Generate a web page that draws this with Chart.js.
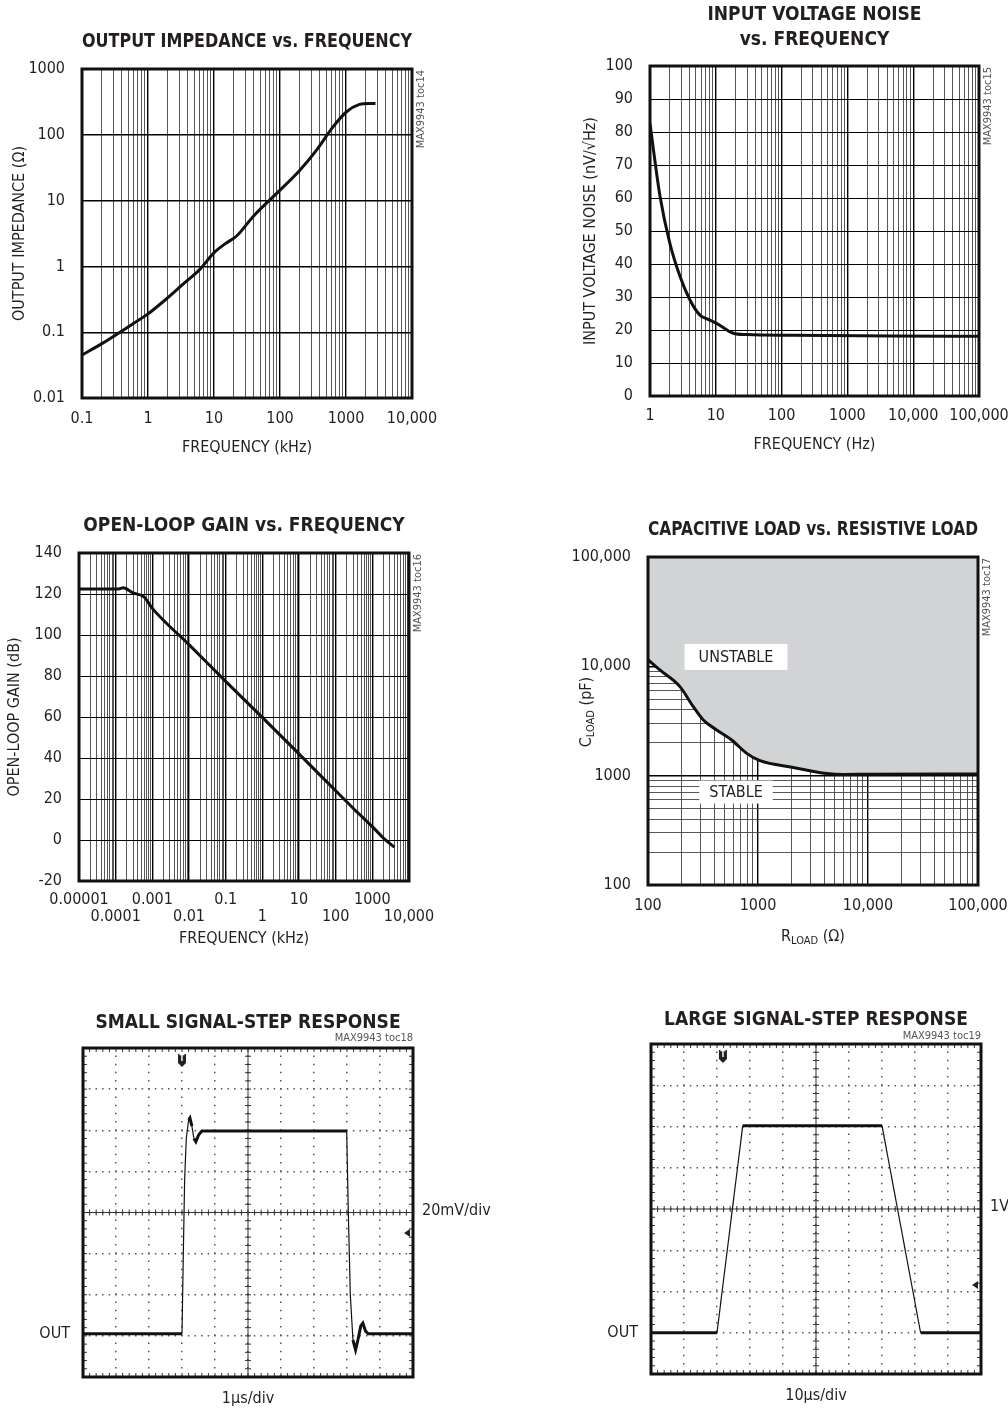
<!DOCTYPE html>
<html>
<head>
<meta charset="utf-8">
<title>MAX9943 typical operating characteristics</title>
<script src="https://cdn.jsdelivr.net/npm/chart.js@4.4.1/dist/chart.umd.min.js"></script>
<style>
  html, body { margin: 0; padding: 0; background: #fff; }
  body { position: relative; width: 1008px; height: 1410px; overflow: hidden; }
  canvas { position: absolute; }
</style>
</head>
<body>
<canvas id="impedanceChart" width="450" height="459" style="left:0;top:0"></canvas>
<canvas id="noiseChart" width="448" height="456" style="left:560px;top:0"></canvas>
<canvas id="gainChart" width="450" height="450" style="left:0;top:500px"></canvas>
<canvas id="loadChart" width="448" height="450" style="left:560px;top:500px"></canvas>
<canvas id="smallStepChart" width="500" height="425" style="left:0;top:985px"></canvas>
<canvas id="largeStepChart" width="448" height="425" style="left:560px;top:985px"></canvas>
<script>
// Output impedance vs. frequency (kHz, ohm)
const zFreq = [0.1, 0.2, 0.377, 0.6, 1.0, 1.9, 3.5, 6.1, 9.8, 14.7, 22, 39, 79, 200, 360, 640, 1020, 1600, 2200, 2800];
const zOhm = [0.045, 0.067, 0.1, 0.136, 0.19, 0.32, 0.55, 0.9, 1.58, 2.2, 2.9, 5.7, 11.5, 29, 59, 133, 224, 290, 300, 298];
const zFreqTicks = ['0.1', '1', '10', '100', '1000', '10,000'];
const zOhmTicks = ['0.01', '0.1', '1', '10', '100', '1000'];

// Input voltage noise vs. frequency (Hz, nV/rtHz)
const nFreq = [1, 1.42, 2.0, 2.86, 4.05, 5.74, 7.5, 10.3, 18.5, 29.5, 150, 5000, 100000];
const nNoise = [82.5, 60.5, 46.3, 36.2, 29.1, 24.5, 23.3, 22, 19, 18.6, 18.4, 18.2, 18.1];
const nFreqTicks = ['1', '10', '100', '1000', '10,000', '100,000'];

// Open-loop gain vs. frequency (kHz, dB)
const gFreq = [1e-5, 1.2e-4, 1.6e-4, 3e-4, 6e-4, 1e-3, 0.01, 0.1, 1, 10, 100, 300, 1000, 2200, 4000];
const gGain = [122.5, 122.5, 123, 120.5, 118.5, 113, 95.3, 77.4, 59.8, 42, 24, 15.5, 6.5, 0.3, -3.5];
const gFreqTicks = ['0.00001', '0.0001', '0.001', '0.01', '0.1', '1', '10', '100', '1000', '10,000'];

// Capacitive load vs. resistive load (ohm, pF)
const rLoad = [100, 128, 195, 258, 318, 421, 576, 789, 1043, 2094, 4210, 5970, 10000, 100000];
const cLoad = [11500, 9270, 6520, 4280, 3230, 2620, 2120, 1600, 1370, 1190, 1048, 1025, 1030, 1035];
const loadTicks = ['100', '1000', '10,000', '100,000'];
const regionNames = ['UNSTABLE', 'STABLE'];
const regionAt = [[631, 12200], [631, 708]];

// Step responses, in scope divisions (10 x 8)
const ssTime = [0, 3.0, 3.04, 3.08, 3.13, 3.2, 3.24, 3.3, 3.36, 3.42, 3.5, 3.6, 7.99, 8.04, 8.1, 8.18, 8.26, 8.33, 8.42, 8.48, 8.56, 8.64, 10];
const ssLevel = [1.05, 1.05, 3.0, 4.8, 5.8, 6.25, 6.3, 6.1, 5.8, 5.72, 5.88, 5.98, 5.98, 4.0, 2.0, 0.9, 0.66, 0.9, 1.25, 1.31, 1.12, 1.05, 1.05];
const lsTime = [0, 2.0, 2.78, 7.0, 8.17, 10];
const lsLevel = [1.0, 1.0, 6.02, 6.02, 1.0, 1.0];

const TEXT = '#231f20';
const TRACE = '#111';

// pick a condensed face if one is installed
function pickFont(names) {
    const c = document.createElement('canvas').getContext('2d');
    const probe = 'OUTPUT IMPEDANCE 0123456789 toc';
    for (const n of names) {
        c.font = '40px monospace';
        const a = c.measureText(probe).width;
        c.font = '40px "' + n + '", monospace';
        if (c.measureText(probe).width !== a) return n;
    }
    return null;
}
const NARROW_FACE = pickFont(['Liberation Sans Narrow', 'DejaVu Sans Condensed', 'Roboto Condensed']);
const FAMILY = NARROW_FACE ? '"' + NARROW_FACE + '", "Liberation Sans", sans-serif' : '"Liberation Sans", sans-serif';
const FS = NARROW_FACE ? 16 : 14;
const TS = NARROW_FACE ? 19 : 16;

function font(size, weight, lineHeight) {
    return { family: FAMILY, size: size, weight: weight || 'normal', lineHeight: lineHeight || 1.2 };
}

function points(xs, ys) {
    return xs.map((v, i) => ({ x: v, y: ys[i] }));
}

// title padding from wanted text centre and plot top (both relative to canvas top)
function titlePad(center, plotTop, lineHeight, lines) {
    const top = center - lineHeight / 2;
    return { top: top, bottom: plotTop - top - lineHeight * (lines || 1) };
}

function noPad(s) {
    s.paddingLeft = s.paddingRight = s.paddingTop = s.paddingBottom = 0;
}

function logTicks(min, max) {
    const ticks = [];
    for (let e = Math.round(Math.log10(min)); e < Math.round(Math.log10(max)); e++) {
        for (let s = 1; s < 10; s++) ticks.push({ value: s * Math.pow(10, e), major: s === 1 });
    }
    ticks.push({ value: max, major: true });
    return ticks;
}

// o: {min, max, labels, pad, size, title, twoRows, minor}
function logAxis(o) {
    const minor = o.minor !== false;
    return {
        type: 'logarithmic',
        min: o.min,
        max: o.max,
        afterBuildTicks: s => { s.ticks = logTicks(o.min, o.max); },
        afterFit: s => {
            if (s.isHorizontal()) s.height = o.size; else s.width = o.size;
            noPad(s);
        },
        ticks: {
            autoSkip: false,
            maxRotation: 0,
            color: TEXT,
            padding: o.pad,
            font: font(FS, 'normal', o.twoRows ? 17 / FS : 1.2),
            callback: function (value, index, ticks) {
                if (!ticks[index].major) return '';
                const k = Math.round(Math.log10(value / o.min));
                return o.twoRows && k % 2 === 1 ? ['', o.labels[k]] : o.labels[k];
            }
        },
        grid: {
            drawTicks: false,
            color: c => (c.tick && c.tick.major ? '#000' : '#444'),
            lineWidth: c => (c.tick && c.tick.major ? 1.4 : (minor ? 0.9 : 0))
        },
        border: { display: false },
        title: o.title ? Object.assign({ display: true, color: TEXT, font: font(FS) }, o.title) : { display: false }
    };
}

function baseOptions(title, rightPad, scales, extra) {
    const plugins = Object.assign({
        legend: { display: false },
        tooltip: { enabled: false },
        title: Object.assign({ display: true, fullSize: false, color: TEXT }, title)
    }, extra || {});
    return {
        responsive: false,
        animation: false,
        events: [],
        layout: { padding: { left: 0, top: 0, right: rightPad, bottom: 0 } },
        plugins: plugins,
        scales: scales
    };
}

// thick box round the plot area
const frame = {
    id: 'frame',
    afterDatasetsDraw(chart) {
        const { ctx, chartArea: a } = chart;
        ctx.save();
        ctx.lineWidth = 3;
        ctx.strokeStyle = '#111';
        ctx.strokeRect(a.left, a.top, a.right - a.left, a.bottom - a.top);
        ctx.restore();
    }
};

function sideNote(text) {
    return {
        id: 'sideNote',
        afterDraw(chart) {
            const { ctx, chartArea: a } = chart;
            ctx.save();
            ctx.translate(a.right + 9, a.top + 1);
            ctx.rotate(-Math.PI / 2);
            ctx.font = '11px ' + FAMILY;
            ctx.fillStyle = '#555';
            ctx.textAlign = 'right';
            ctx.textBaseline = 'middle';
            ctx.fillText(text, 0, 0);
            ctx.restore();
        }
    };
}

function drawSubLabel(ctx, parts, x, y, angle) {
    ctx.save();
    ctx.translate(x, y);
    ctx.rotate(angle);
    let total = 0;
    parts.forEach(p => {
        ctx.font = p.size + 'px ' + FAMILY;
        p.w = ctx.measureText(p.text).width;
        total += p.w;
    });
    let cx = -total / 2;
    ctx.fillStyle = TEXT;
    ctx.textBaseline = 'alphabetic';
    parts.forEach(p => {
        ctx.font = p.size + 'px ' + FAMILY;
        ctx.fillText(p.text, cx, p.dy);
        cx += p.w;
    });
    ctx.restore();
}

// scope graticule extras: centre cross with sub-division ticks, markers and labels
function scopeDecor(outLevel, trigger, ground, vdiv) {
    return {
        id: 'scopeDecor',
        beforeDatasetsDraw(chart) {
            const { ctx, chartArea: a, scales: { x, y } } = chart;
            const cx = x.getPixelForValue(5), cy = y.getPixelForValue(4);
            ctx.save();
            ctx.strokeStyle = '#333';
            ctx.lineWidth = 1;
            ctx.beginPath();
            ctx.moveTo(a.left, cy); ctx.lineTo(a.right, cy);
            ctx.moveTo(cx, a.top); ctx.lineTo(cx, a.bottom);
            for (let i = 0; i <= 50; i++) {
                const px = x.getPixelForValue(i / 5);
                ctx.moveTo(px, cy - 3); ctx.lineTo(px, cy + 3);
                ctx.moveTo(px, a.top); ctx.lineTo(px, a.top + 4);
                ctx.moveTo(px, a.bottom); ctx.lineTo(px, a.bottom - 4);
            }
            for (let j = 0; j <= 40; j++) {
                const py = y.getPixelForValue(j / 5);
                ctx.moveTo(cx - 3, py); ctx.lineTo(cx + 3, py);
                ctx.moveTo(a.left, py); ctx.lineTo(a.left + 4, py);
                ctx.moveTo(a.right, py); ctx.lineTo(a.right - 4, py);
            }
            ctx.stroke();

            // trigger mark
            const tx = x.getPixelForValue(trigger), ty = a.top + 12;
            ctx.fillStyle = '#222';
            ctx.beginPath();
            ctx.moveTo(tx - 4, ty - 6); ctx.lineTo(tx + 4, ty - 6); ctx.lineTo(tx + 4, ty + 3);
            ctx.lineTo(tx, ty + 7); ctx.lineTo(tx - 4, ty + 3); ctx.closePath();
            ctx.fill();
            ctx.fillStyle = '#fff';
            ctx.font = 'bold 8px ' + FAMILY;
            ctx.textAlign = 'center';
            ctx.textBaseline = 'middle';
            ctx.fillText('T', tx, ty - 1);

            // ground arrow
            const gx = a.right - 3, gy = y.getPixelForValue(ground);
            ctx.fillStyle = '#222';
            ctx.beginPath();
            ctx.moveTo(gx - 6, gy); ctx.lineTo(gx, gy - 4); ctx.lineTo(gx, gy + 4); ctx.closePath();
            ctx.fill();
            ctx.restore();
        },
        afterDraw(chart) {
            const { ctx, chartArea: a, scales: { y } } = chart;
            ctx.save();
            ctx.font = FS + 'px ' + FAMILY;
            ctx.fillStyle = TEXT;
            ctx.textBaseline = 'middle';
            ctx.textAlign = 'right';
            ctx.fillText('OUT', a.left - 13, y.getPixelForValue(outLevel));
            ctx.textAlign = 'left';
            ctx.fillText(vdiv, a.right + 9, y.getPixelForValue(4) - 2);
            ctx.restore();
        }
    };
}

function scopeScales(yWidth, xHeight, xTitle, titleBottom) {
    return {
        x: {
            type: 'linear', min: 0, max: 10,
            ticks: { display: false, stepSize: 1 },
            afterFit: s => { s.height = xHeight; noPad(s); },
            grid: { drawTicks: false, color: '#555', lineWidth: 1.5 },
            border: { display: false, dash: [1.5, 6.7], dashOffset: 0.75 },
            title: { display: true, text: xTitle, color: TEXT, font: font(FS), padding: { top: 0, bottom: titleBottom } }
        },
        y: {
            type: 'linear', min: 0, max: 8,
            ticks: { display: false, stepSize: 1 },
            afterFit: s => { s.width = yWidth; noPad(s); },
            grid: { drawTicks: false, color: '#555', lineWidth: 1.5 },
            border: { display: false, dash: [1.5, 5.1], dashOffset: 0.75 }
        }
    };
}

function steepWidth(c) {
    const dx = Math.max(c.p1.parsed.x - c.p0.parsed.x, 1e-6);
    return Math.abs(c.p1.parsed.y - c.p0.parsed.y) / dx > 4 ? 1.2 : 3;
}

document.addEventListener('DOMContentLoaded', function () {
    const titleFont = font(TS, 'bold', 1.2);

    // Output impedance
    new Chart(document.getElementById('impedanceChart'), {
        type: 'line',
        data: { datasets: [{ data: points(zFreq, zOhm), borderColor: TRACE, borderWidth: 3, pointRadius: 0, cubicInterpolationMode: 'monotone' }] },
        options: baseOptions(
            { text: 'OUTPUT IMPEDANCE vs. FREQUENCY', font: titleFont, padding: titlePad(42, 69, TS * 1.2) },
            38,
            {
                x: logAxis({ min: 0.1, max: 10000, labels: zFreqTicks, pad: 11, size: 61, title: { text: 'FREQUENCY (kHz)', padding: { top: 0, bottom: 2 } } }),
                y: logAxis({ min: 0.01, max: 1000, labels: zOhmTicks, pad: 17, size: 82, minor: false, title: { text: 'OUTPUT IMPEDANCE (\u03A9)', padding: { top: 10, bottom: 0 } } })
            }),
        plugins: [frame, sideNote('MAX9943 toc14')]
    });

    // Input voltage noise
    const noiseTitle = font(TS, 'bold', 25 / TS);
    new Chart(document.getElementById('noiseChart'), {
        type: 'line',
        data: { datasets: [{ data: points(nFreq, nNoise), borderColor: TRACE, borderWidth: 3, pointRadius: 0, cubicInterpolationMode: 'monotone' }] },
        options: baseOptions(
            { text: ['INPUT VOLTAGE NOISE', 'vs. FREQUENCY'], font: noiseTitle, padding: titlePad(15, 66, 25, 2) },
            29,
            {
                x: logAxis({ min: 1, max: 100000, labels: nFreqTicks, pad: 10, size: 60, title: { text: 'FREQUENCY (Hz)', padding: { top: 0, bottom: 2 } } }),
                y: {
                    type: 'linear', min: 0, max: 100,
                    afterFit: s => { s.width = 90; noPad(s); },
                    ticks: { stepSize: 10, color: TEXT, padding: 17, font: font(FS) },
                    grid: { drawTicks: false, color: '#000', lineWidth: 1 },
                    border: { display: false },
                    title: { display: true, text: 'INPUT VOLTAGE NOISE (nV/\u221AHz)', color: TEXT, font: font(FS), padding: { top: 21, bottom: 0 } }
                }
            }),
        plugins: [frame, sideNote('MAX9943 toc15')]
    });

    // Open-loop gain
    new Chart(document.getElementById('gainChart'), {
        type: 'line',
        data: { datasets: [{ data: points(gFreq, gGain), borderColor: TRACE, borderWidth: 3, pointRadius: 0, cubicInterpolationMode: 'monotone' }] },
        options: baseOptions(
            { text: 'OPEN-LOOP GAIN vs. FREQUENCY', font: titleFont, padding: titlePad(26, 53, TS * 1.2) },
            41,
            {
                x: logAxis({ min: 1e-5, max: 10000, labels: gFreqTicks, pad: 10.5, size: 69, twoRows: true, title: { text: 'FREQUENCY (kHz)', padding: { top: 0, bottom: 2 } } }),
                y: {
                    type: 'linear', min: -20, max: 140,
                    afterFit: s => { s.width = 79; noPad(s); },
                    ticks: { stepSize: 20, color: TEXT, padding: 17, font: font(FS) },
                    grid: { drawTicks: false, color: '#000', lineWidth: 1 },
                    border: { display: false },
                    title: { display: true, text: 'OPEN-LOOP GAIN (dB)', color: TEXT, font: font(FS), padding: { top: 5, bottom: 0 } }
                }
            }),
        plugins: [frame, sideNote('MAX9943 toc16')]
    });

    // Capacitive vs. resistive load
    const loadPlugins = {
        id: 'loadLabels',
        afterDatasetsDraw(chart) {
            const { ctx, scales: { x, y } } = chart;
            const padX = [28, 20], boxH = [26, 23];
            ctx.save();
            ctx.font = FS + 'px ' + FAMILY;
            ctx.textAlign = 'center';
            ctx.textBaseline = 'middle';
            regionNames.forEach((name, i) => {
                const px = x.getPixelForValue(regionAt[i][0]);
                const py = y.getPixelForValue(regionAt[i][1]);
                const w = ctx.measureText(name).width + padX[i];
                ctx.fillStyle = '#fff';
                ctx.fillRect(px - w / 2, py - boxH[i] / 2, w, boxH[i]);
                ctx.fillStyle = TEXT;
                ctx.fillText(name, px, py + 1);
            });
            ctx.restore();
        },
        afterDraw(chart) {
            const { ctx, chartArea: a } = chart;
            drawSubLabel(ctx, [
                { text: 'R', size: FS, dy: 6 },
                { text: 'LOAD', size: 11, dy: 9 },
                { text: ' (\u03A9)', size: FS, dy: 6 }
            ], (a.left + a.right) / 2, a.bottom + 50, 0);
            drawSubLabel(ctx, [
                { text: 'C', size: FS, dy: 6 },
                { text: 'LOAD', size: 11, dy: 9 },
                { text: ' (pF)', size: FS, dy: 6 }
            ], a.left - 63, 212, -Math.PI / 2);
        }
    };
    new Chart(document.getElementById('loadChart'), {
        type: 'line',
        data: { datasets: [{ data: points(rLoad, cLoad), borderColor: TRACE, borderWidth: 3, pointRadius: 0, cubicInterpolationMode: 'monotone', fill: 'end', backgroundColor: '#d1d3d4' }] },
        options: baseOptions(
            { text: 'CAPACITIVE LOAD vs. RESISTIVE LOAD', font: titleFont, padding: titlePad(30, 57, TS * 1.2) },
            30,
            {
                x: logAxis({ min: 100, max: 100000, labels: loadTicks, pad: 11.5, size: 65 }),
                y: logAxis({ min: 100, max: 100000, labels: loadTicks, pad: 17, size: 88 })
            },
            { filler: { propagate: false } }),
        plugins: [loadPlugins, frame, sideNote('MAX9943 toc17')]
    });

    // Small signal step
    const stepTitle = font(TS, 'bold', 1.0);
    const subFont = font(11, 'normal', 1.0);
    new Chart(document.getElementById('smallStepChart'), {
        type: 'line',
        data: { datasets: [{ data: points(ssTime, ssLevel), borderColor: TRACE, borderWidth: 3, pointRadius: 0, segment: { borderWidth: steepWidth } }] },
        options: baseOptions(
            { text: 'SMALL SIGNAL-STEP RESPONSE', font: stepTitle, padding: { top: 38 - TS / 2, bottom: 0 } },
            87,
            scopeScales(83, 33, '1\u00B5s/div', 2),
            { subtitle: { display: true, text: 'MAX9943 toc18', align: 'end', fullSize: false, color: '#555', font: subFont, padding: { top: 48 - 38 - TS / 2, bottom: 4 } } }),
        plugins: [scopeDecor(ssLevel[0], 3.0, 3.5, '20mV/div'), frame]
    });

    // Large signal step
    new Chart(document.getElementById('largeStepChart'), {
        type: 'line',
        data: { datasets: [{ data: points(lsTime, lsLevel), borderColor: TRACE, borderWidth: 2.5, pointRadius: 0, segment: { borderWidth: steepWidth } }] },
        options: baseOptions(
            { text: 'LARGE SIGNAL-STEP RESPONSE', font: stepTitle, padding: { top: 35 - TS / 2, bottom: 0 } },
            27,
            scopeScales(91, 36, '10\u00B5s/div', 5),
            { subtitle: { display: true, text: 'MAX9943 toc19', align: 'end', fullSize: false, color: '#555', font: subFont, padding: { top: 45.5 - 35 - TS / 2, bottom: 2.5 } } }),
        plugins: [scopeDecor(lsLevel[0], 2.18, 2.16, '1V/div'), frame]
    });
});
</script>
</body>
</html>
